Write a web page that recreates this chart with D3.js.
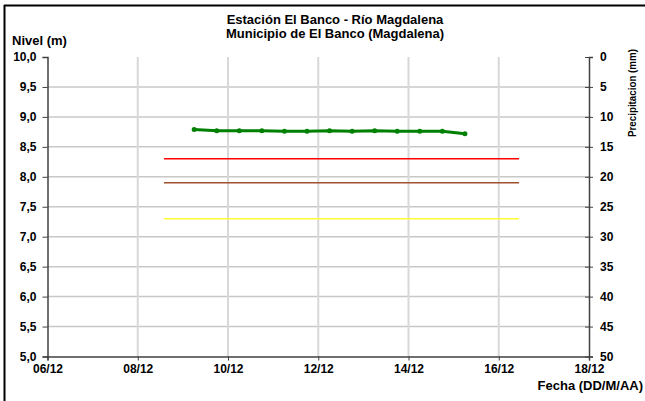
<!DOCTYPE html>
<html>
<head>
<meta charset="utf-8">
<script src="https://d3js.org/d3.v7.min.js"></script>
<style>
  body { margin: 0; background: #fff; }
  text { font-family: "Liberation Sans", Arial, sans-serif; font-weight: bold; fill: #000; }
</style>
</head>
<body>
<script>
// nivel del rio cada 12 horas (dias desde 06/12 00:00)
var days   = [3.25, 3.75, 4.25, 4.75, 5.25, 5.75, 6.25, 6.75, 7.25, 7.75, 8.25, 8.75, 9.25];
var nivel  = [8.79, 8.77, 8.77, 8.77, 8.76, 8.76, 8.77, 8.76, 8.77, 8.76, 8.76, 8.76, 8.72];

// niveles de referencia (alertas)
var refNames  = ['roja', 'naranja', 'amarilla'];
var refLevels = [8.3, 7.9, 7.3];
var refColors = ['#ff0000', '#a0522d', '#ffff33'];
var refSpan   = [2.58, 10.45]; // dias

var xTickDays   = [0, 2, 4, 6, 8, 10, 12];
var xTickLabels = ['06/12', '08/12', '10/12', '12/12', '14/12', '16/12', '18/12'];
var yTicks      = [5, 5.5, 6, 6.5, 7, 7.5, 8, 8.5, 9, 9.5, 10];
var precTicks   = [0, 5, 10, 15, 20, 25, 30, 35, 40, 45, 50];

var width = 645, height = 401;
var pLeft = 47.5, pRight = 589, pTop = 57, pBottom = 356.5;

var svg = d3.select('body').append('svg')
  .attr('width', width).attr('height', height);

// marco
svg.append('line').attr('x1', 4.5).attr('x2', 4.5).attr('y1', 5).attr('y2', height)
  .attr('stroke', '#000').attr('stroke-width', 2);
svg.append('line').attr('x1', 4).attr('x2', width).attr('y1', 5.5).attr('y2', 5.5)
  .attr('stroke', '#000').attr('stroke-width', 2);

var x = d3.scaleLinear().domain([0, 12]).range([pLeft, pRight]);
var y = d3.scaleLinear().domain([5, 10]).range([pBottom, pTop]);
var yPrec = d3.scaleLinear().domain([0, 50]).range([pTop, pBottom]);

// grid
svg.append('g').selectAll('line').data(yTicks.slice(1, -1)).enter().append('line')
  .attr('x1', pLeft).attr('x2', pRight)
  .attr('y1', function(d) { return y(d); }).attr('y2', function(d) { return y(d); })
  .attr('stroke', '#c8c8c8').attr('stroke-width', 1.5);
svg.append('g').selectAll('line').data(xTickDays.slice(1, -1)).enter().append('line')
  .attr('x1', function(d) { return x(d); }).attr('x2', function(d) { return x(d); })
  .attr('y1', pTop).attr('y2', pBottom)
  .attr('stroke', '#d8d8d8').attr('stroke-width', 2);

// lineas de referencia
svg.append('g').selectAll('line').data(refLevels).enter().append('line')
  .attr('x1', x(refSpan[0])).attr('x2', x(refSpan[1]))
  .attr('y1', function(d) { return y(d); }).attr('y2', function(d) { return y(d); })
  .attr('stroke', function(d, i) { return refColors[i]; })
  .attr('stroke-width', 1.5);

// ejes
var axisColor = '#404040';
var gl = svg.append('g').attr('transform', 'translate(' + pLeft + ',0)')
  .call(d3.axisLeft(y).tickValues(yTicks).tickSize(5)
    .tickFormat(function(d) { return d3.format('.1f')(d).replace('.', ','); }));
var gr = svg.append('g').attr('transform', 'translate(' + pRight + ',0)')
  .call(d3.axisRight(yPrec).tickValues(precTicks).tickSize(4));
var gb = svg.append('g').attr('transform', 'translate(0,' + pBottom + ')')
  .call(d3.axisBottom(x).tickValues(xTickDays).tickSize(4)
    .tickFormat(function(d, i) { return xTickLabels[i]; }));

[gl, gr, gb].forEach(function(g) {
  g.select('.domain').attr('stroke', axisColor).attr('stroke-width', 1.5);
  g.selectAll('.tick line').attr('stroke', axisColor);
  g.selectAll('.tick text').style('font-size', '12px').style('font-family', '"Liberation Sans", Arial, sans-serif')
    .style('font-weight', 'bold').attr('fill', '#000');
});
gl.selectAll('.tick text').attr('x', -11);
gr.selectAll('.tick line').attr('x1', -4);
gr.selectAll('.tick text').attr('x', 11);
gb.selectAll('.tick text').attr('y', 8);

// serie nivel
var pts = days.map(function(d, i) { return [d, nivel[i]]; });
svg.append('path').datum(pts)
  .attr('d', d3.line().x(function(d) { return x(d[0]); }).y(function(d) { return y(d[1]); }))
  .attr('fill', 'none').attr('stroke', '#008000').attr('stroke-width', 3);
svg.append('g').selectAll('circle').data(pts).enter().append('circle')
  .attr('cx', function(d) { return x(d[0]); }).attr('cy', function(d) { return y(d[1]); })
  .attr('r', 2.5).attr('fill', '#008000');

// textos
svg.append('text').attr('x', 335).attr('y', 24).attr('text-anchor', 'middle')
  .style('font-size', '13px').text('Estación El Banco - Río Magdalena');
svg.append('text').attr('x', 335).attr('y', 38).attr('text-anchor', 'middle')
  .style('font-size', '13px').text('Municipio de El Banco (Magdalena)');
svg.append('text').attr('x', 12).attr('y', 45)
  .style('font-size', '13px').text('Nivel (m)');
svg.append('text').attr('x', 643).attr('y', 390).attr('text-anchor', 'end')
  .style('font-size', '13px').text('Fecha (DD/M/AA)');
svg.append('text').attr('transform', 'translate(636,93) rotate(-90)').attr('text-anchor', 'middle')
  .attr('textLength', 88).attr('lengthAdjust', 'spacingAndGlyphs')
  .style('font-size', '11.5px').text('Precipitacion (mm)');
</script>
</body>
</html>
